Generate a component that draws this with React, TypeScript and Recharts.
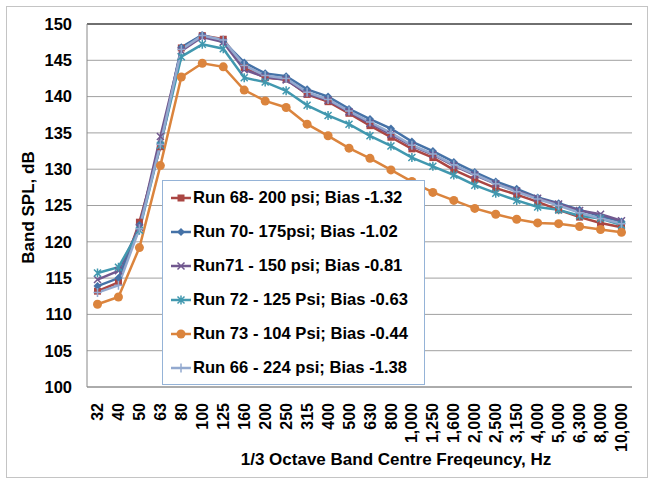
import React from 'react';
import { LineChart, Line, XAxis, YAxis, CartesianGrid, ReferenceLine, Legend } from 'recharts';

const categories = ['32', '40', '50', '63', '80', '100', '125', '160', '200', '250', '315', '400', '500', '630', '800', '1,000', '1,250', '1,600', '2,000', '2,500', '3,150', '4,000', '5,000', '6,300', '8,000', '10,000'];

const run68 = [113.2, 114.4, 122.7, 133.1, 146.7, 148.4, 147.9, 144.0, 142.6, 142.4, 140.3, 139.3, 137.7, 136.0, 134.4, 132.8, 131.6, 129.9, 128.6, 127.4, 126.5, 125.5, 124.4, 123.4, 122.6, 122.0];
const run70 = [113.9, 115.0, 122.3, 133.5, 146.8, 148.5, 147.6, 144.7, 143.2, 142.8, 141.0, 140.0, 138.3, 136.9, 135.6, 133.8, 132.5, 131.0, 129.6, 128.3, 127.3, 126.1, 125.3, 124.4, 123.5, 122.8];
const run71 = [114.8, 116.0, 122.0, 134.5, 146.3, 148.2, 147.5, 143.7, 142.7, 142.3, 140.4, 139.5, 137.9, 136.3, 134.8, 133.2, 132.0, 130.5, 129.2, 128.0, 127.0, 126.0, 125.2, 124.3, 123.8, 122.9];
const run72 = [115.7, 116.5, 121.6, 133.3, 145.5, 147.2, 146.6, 142.6, 142.0, 140.8, 138.8, 137.4, 136.2, 134.6, 133.2, 131.6, 130.4, 129.2, 127.8, 126.7, 125.7, 124.8, 124.4, 123.6, 123.2, 122.3];
const run73 = [111.4, 112.4, 119.2, 130.5, 142.7, 144.6, 144.1, 140.9, 139.4, 138.5, 136.2, 134.6, 132.9, 131.5, 129.9, 128.3, 126.8, 125.7, 124.6, 123.8, 123.1, 122.6, 122.5, 122.1, 121.7, 121.3];
const run66 = [113.0, 114.0, 121.8, 133.4, 146.5, 148.4, 147.8, 144.3, 142.9, 142.5, 140.6, 139.6, 138.0, 136.5, 135.0, 133.3, 132.1, 130.6, 129.3, 128.0, 126.9, 125.9, 125.0, 124.0, 123.2, 122.5];

const yTicks = [100, 105, 110, 115, 120, 125, 130, 135, 140, 145, 150];

const series = [
  { key: 'run68', name: 'Run 68- 200 psi; Bias -1.32', color: '#AA4643', marker: 'square', values: run68 },
  { key: 'run70', name: 'Run 70- 175psi; Bias -1.02', color: '#4572A7', marker: 'diamond', values: run70 },
  { key: 'run71', name: 'Run71 - 150 psi; Bias -0.81', color: '#71588F', marker: 'x', values: run71 },
  { key: 'run72', name: 'Run 72 - 125 Psi; Bias -0.63', color: '#4198AF', marker: 'star', values: run72 },
  { key: 'run73', name: 'Run 73 - 104 Psi; Bias -0.44', color: '#DB843D', marker: 'circle', values: run73 },
  { key: 'run66', name: 'Run 66 - 224 psi; Bias -1.38', color: '#93A9CF', marker: 'plus', values: run66 },
];

const data = categories.map((c, i) => {
  const row: any = { cat: c };
  series.forEach((s) => { row[s.key] = s.values[i]; });
  return row;
});

const FONT = "'Liberation Sans', Arial, sans-serif";

function Marker({ cx, cy, type, color }: { cx: number; cy: number; type: string; color: string }) {
  if (cx == null || cy == null) return null;
  switch (type) {
    case 'square':
      return <rect x={cx - 3.5} y={cy - 3.5} width={7} height={7} fill={color} />;
    case 'diamond':
      return <path d={`M${cx},${cy - 4}L${cx + 4},${cy}L${cx},${cy + 4}L${cx - 4},${cy}Z`} fill={color} />;
    case 'x':
      return <path d={`M${cx - 3.5},${cy - 3.5}L${cx + 3.5},${cy + 3.5}M${cx - 3.5},${cy + 3.5}L${cx + 3.5},${cy - 3.5}`} stroke={color} strokeWidth={1.5} fill="none" />;
    case 'star':
      return <path d={`M${cx - 3.5},${cy - 3.5}L${cx + 3.5},${cy + 3.5}M${cx - 3.5},${cy + 3.5}L${cx + 3.5},${cy - 3.5}M${cx},${cy - 4.5}L${cx},${cy + 4.5}`} stroke={color} strokeWidth={1.5} fill="none" />;
    case 'circle':
      return <circle cx={cx} cy={cy} r={4.5} fill={color} />;
    case 'plus':
      return <path d={`M${cx - 4},${cy}L${cx + 4},${cy}M${cx},${cy - 4.5}L${cx},${cy + 4.5}`} stroke={color} strokeWidth={1.5} fill="none" />;
    default:
      return null;
  }
}

function XTick(props: any) {
  const { x, y, payload } = props;
  return (
    <text
      x={x}
      y={y}
      transform={`rotate(-90, ${x}, ${y})`}
      textAnchor="end"
      dy="0.35em"
      fontFamily={FONT}
      fontWeight="bold"
      fontSize={16}
      fill="#000"
    >
      {payload.value}
    </text>
  );
}

function XTitle() {
  return (
    <text x={396} y={465} textAnchor="middle" fontFamily={FONT} fontWeight="bold" fontSize={17} fill="#000">
      1/3 Octave Band Centre Freqeuncy, Hz
    </text>
  );
}

function YTitle() {
  return (
    <text x={28.5} y={207.5} transform="rotate(-90, 28.5, 207.5)" textAnchor="middle" dy="0.35em" fontFamily={FONT} fontWeight="bold" fontSize={17} fill="#000">
      Band SPL, dB
    </text>
  );
}

function LegendBox() {
  return (
    <div
      style={{
        boxSizing: 'border-box',
        width: 263,
        height: 205,
        border: '1px solid #95B3D7',
        background: '#fff',
        fontFamily: FONT,
        fontWeight: 'bold',
        fontSize: 16.6,
        color: '#000',
      }}
    >
      {series.map((s) => (
        <div key={s.key} style={{ height: 34, display: 'flex', alignItems: 'center', whiteSpace: 'nowrap' }}>
          <svg width={30} height={14} style={{ marginLeft: 7, marginRight: 0, flex: 'none' }}>
            <line x1={1} y1={7} x2={21} y2={7} stroke={s.color} strokeWidth={2.5} />
            <Marker cx={11} cy={7} type={s.marker} color={s.color} />
          </svg>
          <span style={{ marginLeft: -7 }}>{s.name}</span>
        </div>
      ))}
    </div>
  );
}

export default function App() {
  return (
    <div style={{ position: 'absolute', left: 0, top: 0, width: 654, height: 481, background: '#fff' }}>
      <div style={{ position: 'absolute', left: 6, top: 6, width: 640, height: 470, border: '1px solid #c4c4c4' }} />
      <div style={{ position: 'absolute', left: 0, top: 0 }}>
        <LineChart width={654} height={481} data={data} margin={{ top: 24, right: 22, left: 0, bottom: 0 }}>
          <CartesianGrid vertical={false} stroke="#a0a0a0" strokeWidth={1} />
          <XAxis
            dataKey="cat"
            interval={0}
            height={94}
            padding={{ left: 10.5, right: 10.5 }}
            tickLine={false}
            tickSize={0}
            tickMargin={16}
            tick={<XTick />}
            axisLine={{ stroke: '#888', strokeWidth: 1 }}
            label={<XTitle />}
          />
          <YAxis
            domain={[100, 150]}
            ticks={yTicks}
            width={87}
            tickLine={false}
            tickSize={0}
            tickMargin={15}
            axisLine={{ stroke: '#888', strokeWidth: 1 }}
            tick={{ fontFamily: FONT, fontWeight: 'bold', fontSize: 16.5, fill: '#000' }}
            label={<YTitle />}
          />
          <YAxis
            yAxisId="right"
            orientation="right"
            domain={[100, 150]}
            width={0}
            tick={false}
            tickLine={false}
            axisLine={{ stroke: '#888', strokeWidth: 1 }}
          />
          <ReferenceLine y={150} stroke="#111" strokeWidth={1} />
          {series.map((s) => (
            <Line
              key={s.key}
              type="linear"
              dataKey={s.key}
              name={s.name}
              stroke={s.color}
              strokeWidth={2.5}
              isAnimationActive={false}
              dot={(p: any) => <Marker key={`${s.key}-${p.index}`} cx={p.cx} cy={p.cy} type={s.marker} color={s.color} />}
              activeDot={false}
            />
          ))}
          <Legend
            layout="vertical"
            align="center"
            verticalAlign="middle"
            content={() => <LegendBox />}
            wrapperStyle={{ position: 'absolute', left: 162, top: 180, width: 263, height: 205 }}
          />
        </LineChart>
      </div>
    </div>
  );
}
